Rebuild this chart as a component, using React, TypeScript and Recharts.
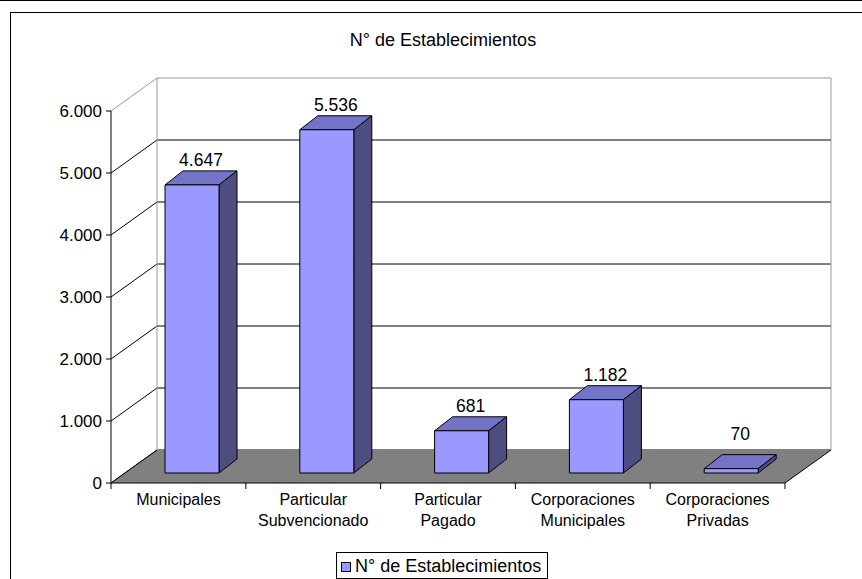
import React from "react";
import { BarChart, Bar, XAxis, YAxis, CartesianGrid, ReferenceArea, LabelList } from "recharts";

// chart values
const categories = [
  "Municipales",
  "Particular Subvencionado",
  "Particular Pagado",
  "Corporaciones Municipales",
  "Corporaciones Privadas",
];
const categoryLines = [
  ["Municipales"],
  ["Particular", "Subvencionado"],
  ["Particular", "Pagado"],
  ["Corporaciones", "Municipales"],
  ["Corporaciones", "Privadas"],
];
const establecimientos = [4647, 5536, 681, 1182, 70];
const yTicks = [0, 1000, 2000, 3000, 4000, 5000, 6000];
const seriesName = "N° de Establecimientos";

const data = categories.map((name, i) => ({ name, value: establecimientos[i] }));

const FONT = "'Liberation Sans', Arial, sans-serif";
// 3d look: wall depth and bar depth
const WALL_DX = 46;
const WALL_DY = 33;
const BAR_SHIFT_X = 14;
const BAR_SHIFT_Y = 10;
const BAR_DX = 18;
const BAR_DY = 14;

const FRONT = "#9999FF";
const TOP = "#7373C8";
const SIDE = "#4D4D80";

const fmt = (n: number) => String(n).replace(/\B(?=(\d{3})+(?!\d))/g, ".");

const Bar3D = (props: any) => {
  const { x, y, width, height } = props;
  const fx = x + BAR_SHIFT_X;
  const fy = y - BAR_SHIFT_Y;
  const h = Math.max(height, 0);
  return (
    <g stroke="#000" strokeWidth={1} strokeLinejoin="round">
      <polygon
        points={`${fx},${fy} ${fx + BAR_DX},${fy - BAR_DY} ${fx + width + BAR_DX},${fy - BAR_DY} ${fx + width},${fy}`}
        fill={TOP}
      />
      <polygon
        points={`${fx + width},${fy} ${fx + width + BAR_DX},${fy - BAR_DY} ${fx + width + BAR_DX},${fy + h - BAR_DY} ${fx + width},${fy + h}`}
        fill={SIDE}
      />
      <rect x={fx} y={fy} width={width} height={h} fill={FRONT} />
    </g>
  );
};

const ValueLabel = (props: any) => {
  const { x, y, width, height, value } = props;
  const fx = x + BAR_SHIFT_X;
  const fy = y - BAR_SHIFT_Y;
  const base = Math.min(fy - BAR_DY - 5, fy + height - 33);
  return (
    <text x={fx + width / 2 + BAR_DX / 2} y={base} textAnchor="middle" fontSize={17.5} fontFamily={FONT} fill="#000">
      {fmt(value)}
    </text>
  );
};

// floor, side edges of the back wall and category boundary ticks
const Walls = (props: any) => {
  const { x, y, width, height } = props;
  const bottom = y + height;
  const n = categories.length;
  return (
    <g>
      <polygon
        points={`${x},${bottom} ${x + width},${bottom} ${x + width + WALL_DX},${bottom - WALL_DY} ${x + WALL_DX},${bottom - WALL_DY}`}
        fill="#808080"
      />
      <line x1={x} y1={bottom} x2={x + WALL_DX} y2={bottom - WALL_DY} stroke="#000" />
      <line x1={x + width} y1={bottom} x2={x + width + WALL_DX} y2={bottom - WALL_DY} stroke="#000" />
      <line x1={x + WALL_DX} y1={y - WALL_DY} x2={x + WALL_DX} y2={bottom - WALL_DY} stroke="#999" />
      <line x1={x + width + WALL_DX} y1={y - WALL_DY} x2={x + width + WALL_DX} y2={bottom - WALL_DY} stroke="#999" />
      {Array.from({ length: n + 1 }, (_, i) => (
        <line key={i} x1={x + (i * width) / n} y1={bottom} x2={x + (i * width) / n} y2={bottom + 6} stroke="#000" />
      ))}
    </g>
  );
};

const GridLine = (props: any) => {
  const { x1, y1, x2, y } = props;
  const top = Math.abs(y1 - y) < 0.5;
  const c = top ? "#999" : "#000";
  return (
    <g key={props.key}>
      <line x1={x1} y1={y1} x2={x1 + WALL_DX} y2={y1 - WALL_DY} stroke={c} />
      <line x1={x1 + WALL_DX} y1={y1 - WALL_DY} x2={x2 + WALL_DX} y2={y1 - WALL_DY} stroke={c} />
    </g>
  );
};

const CategoryTick = (props: any) => {
  const { x, y, index } = props;
  const lines = categoryLines[index] || [];
  return (
    <text x={x} y={y} textAnchor="middle" fontSize={16} fontFamily={FONT} fill="#000">
      {lines.map((l, i) => (
        <tspan key={i} x={x} dy={i === 0 ? 14 : 21}>
          {l}
        </tspan>
      ))}
    </text>
  );
};

export default function App() {
  return (
    <div style={{ position: "absolute", left: 0, top: 0, width: 862, height: 579, overflow: "hidden", background: "#fff" }}>
      <div style={{ position: "absolute", left: 0, top: 0, width: 862, height: 1, background: "#000" }} />
      <div
        style={{
          position: "absolute",
          left: 10,
          top: 12,
          width: 900,
          height: 600,
          borderLeft: "1.5px solid #000",
          borderTop: "1.5px solid #000",
        }}
      />
      <div style={{ position: "absolute", left: 0, top: 0 }}>
        <BarChart width={862} height={579} data={data} margin={{ top: 111, right: 77, bottom: 56, left: 51 }}>
          <CartesianGrid vertical={false} horizontal={(p: any) => <GridLine {...p} />} />
          <ReferenceArea y1={0} y2={6000} shape={(p: any) => <Walls {...p} />} />
          <XAxis
            dataKey="name"
            height={40}
            interval={0}
            axisLine={{ stroke: "#000" }}
            tickLine={false}
            tick={(p: any) => <CategoryTick {...p} />}
          />
          <YAxis
            domain={[0, 6000]}
            ticks={yTicks}
            interval={0}
            width={60}
            tickFormatter={fmt}
            axisLine={{ stroke: "#000" }}
            tickLine={{ stroke: "#000" }}
            tickSize={5}
            tickMargin={4}
            tick={{ fill: "#000", fontSize: 17, fontFamily: FONT }}
          />
          <Bar dataKey="value" name={seriesName} barSize={54} isAnimationActive={false} shape={(p: any) => <Bar3D {...p} />}>
            <LabelList dataKey="value" content={(p: any) => <ValueLabel {...p} />} />
          </Bar>
        </BarChart>
      </div>
      <svg width={862} height={579} style={{ position: "absolute", left: 0, top: 0, pointerEvents: "none" }}>
        <text x={443} y={46} textAnchor="middle" fontSize={18} fontFamily={FONT} fill="#000">
          {seriesName}
        </text>
        <rect x={336.5} y={552.5} width={211} height={26} fill="#fff" stroke="#000" />
        <rect x={341.5} y={562.5} width={9} height={9} fill={FRONT} stroke="#000" />
        <text x={355} y={572} fontSize={18} fontFamily={FONT} fill="#000">
          {seriesName}
        </text>
      </svg>
    </div>
  );
}
